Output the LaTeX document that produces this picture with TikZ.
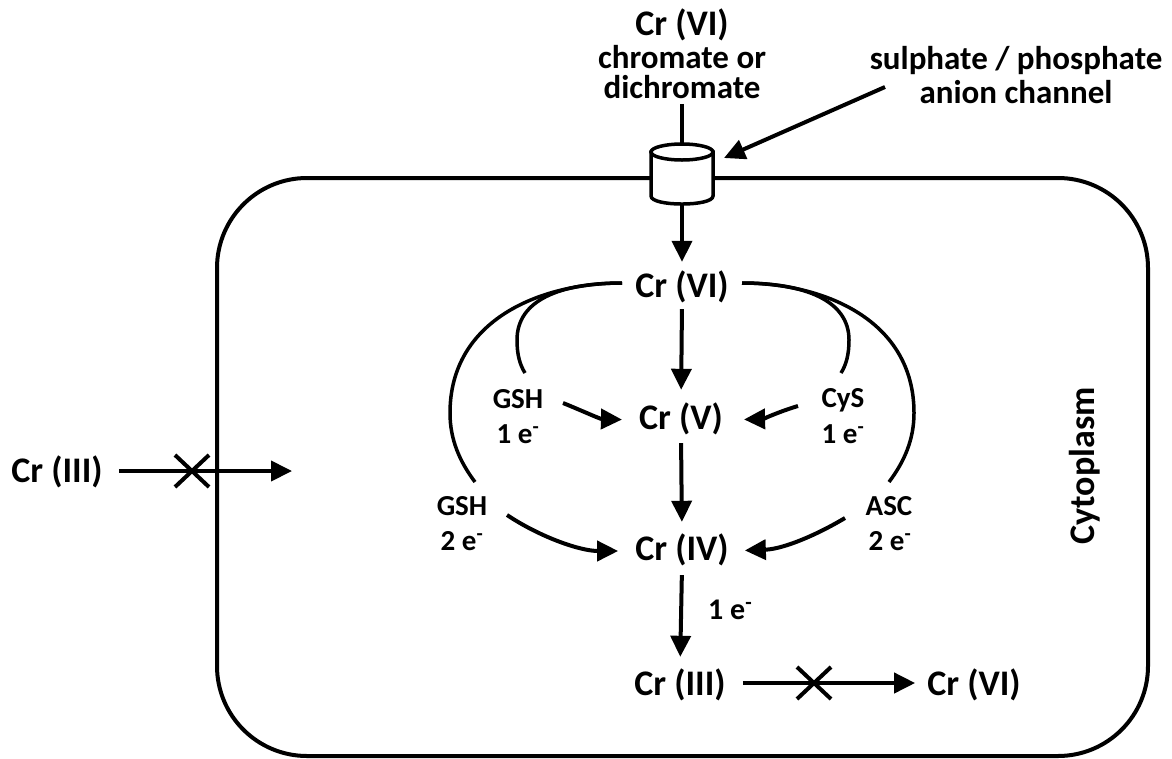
\documentclass[tikz,border=0pt]{standalone}
\usepackage{fontspec}
\setmainfont{Carlito}
\usetikzlibrary{arrows.meta,shapes.misc}
\begin{document}
\begin{tikzpicture}[x=1pt,y=-1pt,
  big/.style={font=\fontsize{36}{40}\selectfont\bfseries, inner sep=0pt, text height=25pt, text depth=7pt, anchor=base},
  topbig/.style={font=\fontsize{36}{40}\selectfont\bfseries, inner sep=0pt, anchor=base},
  med/.style={font=\fontsize{33}{38}\selectfont\bfseries, inner sep=0pt, anchor=base},
  sm/.style={font=\fontsize{29}{34}\selectfont\bfseries, inner sep=0pt, anchor=base},
  arr/.style={-{Triangle[length=21pt,width=20pt]}, line width=4pt},
  curve/.style={line width=3.5pt},
  xmark/.style={draw, cross out, line width=4pt, minimum width=30pt, minimum height=28pt, inner sep=0pt},
  membrane/.style={line width=4pt, rounded corners=90pt}]
\useasboundingbox (0,0) rectangle (1172,758);

% cell membrane
\draw[membrane] (217,178) rectangle (1148,756);

% channel
\coordinate (chantop) at (682,144);
\coordinate (chanbot) at (682,204);
\filldraw[curve, fill=white] (651,152) -- (651,196) .. controls (651,206.7) and (713,206.7) .. (713,196) -- (713,152) -- cycle;
\filldraw[curve, fill=white] (682,152) ellipse [x radius=31pt, y radius=8pt];

% texts
\node[topbig] (topcr) at (682,35) {Cr (VI)};
\node[font=\fontsize{33}{30}\selectfont\bfseries, inner sep=0pt, align=center, anchor=north] (chrom) at (682,45) {chromate or\\dichromate};
\node[font=\fontsize{33}{34}\selectfont\bfseries, inner sep=0pt, align=center, anchor=north] (sul) at (1016,46) {sulphate / phosphate\\anion channel};

\node[big] (crvi) at (682,297) {Cr (VI)};
\node[big] (crv) at (681,429) {Cr (V)};
\node[big] (criv) at (682,560) {Cr (IV)};
\node[big] (criii) at (680,695) {Cr (III)};
\node[big] (crvib) at (974,695) {Cr (VI)};
\node[big] (crout) at (57,482) {Cr (III)};
\node[font=\fontsize{36}{40}\selectfont\bfseries, inner sep=0pt, rotate=90] (cyto) at (1085,466) {Cytoplasm};

\node[sm] (gsha) at (518,408) {GSH};
\node[sm] (gshae) at (518,443) {1 e\textsuperscript{-}};
\node[sm] (gshb) at (462,515) {GSH};
\node[sm] (gshbe) at (462,550) {2 e\textsuperscript{-}};
\node[sm] (cys) at (843,407) {CyS};
\node[sm] (cyse) at (843,443) {1 e\textsuperscript{-}};
\node[sm] (asc) at (889,515) {ASC};
\node[sm] (asce) at (890,550) {2 e\textsuperscript{-}};
\node[font=\fontsize{30}{34}\selectfont\bfseries, inner sep=0pt, anchor=base west] (onee) at (708,619) {1 e\textsuperscript{-}};

% cross marks
\node[xmark] (xa) at (192,471) {};
\node[xmark] (xb) at (814,683) {};

% channel connectors
\draw[line width=4pt, shorten <=5pt] (chrom.south) -- (chantop);
\coordinate (chs) at (885,87);
\coordinate (cht) at (724,158);
\draw[arr] (chs) -- (cht);
\draw[arr, shorten >=10pt] (chanbot) -- (crvi.north);

% main chain
\draw[arr, shorten <=5pt, shorten >=14pt] (crvi.south) -- (crv.north);
\draw[arr, shorten <=7pt, shorten >=13pt] (crv.south) -- (criv.north);
\draw[arr, shorten <=8pt, shorten >=13pt] (criv.south) -- (criii.north);

% blocked conversions
\coordinate (inside) at (292,471);
\draw[arr, shorten <=16pt] (crout.east |- xa) -- (inside);
\draw[arr, shorten <=17pt, shorten >=12pt] (criii.east |- xb) -- (crvib.west |- xb);

% reductant arcs
\coordinate (ls) at (622,283);
\coordinate (rs) at (742,283);
\draw[curve] (ls) .. controls (540,283) and (450,320) .. (450,413) .. controls (450,440) and (460,462) .. (475,482);
\draw[curve] (ls) .. controls (560,283) and (517,300) .. (517,340) .. controls (517,355) and (520,365) .. (525,373);
\draw[curve] (rs) .. controls (824,283) and (914,320) .. (914,413) .. controls (914,440) and (904,462) .. (889,482);
\draw[curve] (rs) .. controls (804,283) and (849,300) .. (849,340) .. controls (849,355) and (846,365) .. (841,373);

% reductant arrows
\coordinate (ga) at (563,403);
\coordinate (gb) at (507,515);
\coordinate (ca) at (798,406);
\coordinate (cb) at (845,518);
\draw[arr, shorten >=17pt] (ga) .. controls (578,409) and (600,419) .. (crv.west);
\draw[arr, shorten >=17pt] (gb) .. controls (540,537) and (580,551) .. (criv.west);
\draw[arr, shorten >=21pt] (ca) .. controls (784,410) and (762,419) .. (crv.east);
\draw[arr, shorten >=16pt] (cb) .. controls (820,533) and (785,549) .. (criv.east);
\end{tikzpicture}
\end{document}
